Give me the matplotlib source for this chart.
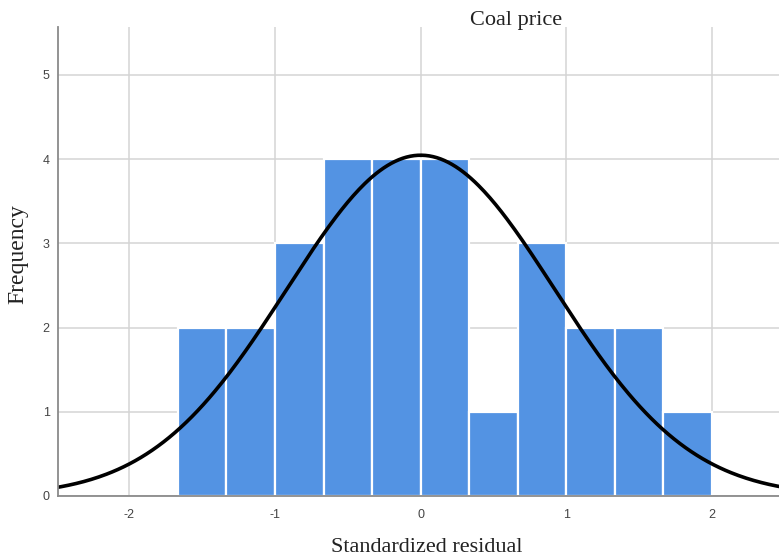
import numpy as np
import matplotlib
matplotlib.use("Agg")
import matplotlib.pyplot as plt

plt.rcParams["axes.unicode_minus"] = False

# histogram of standardized residuals (SPSS style)
bin_edges = np.linspace(-5 / 3, 2, 12)
counts = [2, 2, 3, 4, 4, 4, 1, 3, 2, 2, 1]
x_ticks = [-2, -1, 0, 1, 2]
y_ticks = [0, 1, 2, 3, 4, 5]

# fitted normal curve parameters
fit_mean = 0.0
fit_sd = 0.92

n_obs = sum(counts)
bin_width = bin_edges[1] - bin_edges[0]

fig = plt.figure(figsize=(7.79, 5.59), dpi=100)
ax = fig.add_axes([58 / 779, 1 - 496 / 559, 1 - 58 / 779, (496 - 27) / 559])

ax.bar(bin_edges[:-1], counts, width=np.diff(bin_edges), align="edge",
       color="#5393e3", edgecolor="white", linewidth=1.6, zorder=2)

xs = np.linspace(-2.6, 2.6, 400)
curve = n_obs * bin_width * np.exp(-0.5 * ((xs - fit_mean) / fit_sd) ** 2) / (fit_sd * np.sqrt(2 * np.pi))
ax.plot(xs, curve, color="black", linewidth=2.6, zorder=4)

ax.set_xlim(-2.49, 2.46)
ax.set_ylim(0, 5.57)
ax.set_xticks(x_ticks)
ax.set_yticks(y_ticks)
ax.grid(True, color="#d4d4d4", linewidth=1.1, zorder=0)
ax.set_axisbelow(True)
ax.tick_params(axis="x", length=0, labelsize=9, labelcolor="#444444", pad=9)
ax.tick_params(axis="y", length=0, labelsize=9, labelcolor="#444444", pad=6)
for lab in ax.get_xticklabels() + ax.get_yticklabels():
    lab.set_family("Liberation Sans")

for side in ["top", "right"]:
    ax.spines[side].set_visible(False)
for side in ["left", "bottom"]:
    ax.spines[side].set_color("#8a8a8a")
    ax.spines[side].set_linewidth(1.3)
    ax.spines[side].set_zorder(5)

# axis titles placed in figure coords (the original is cropped tightly)
fig.text(427 / 779, 1 - 547 / 559, "Standardized residual", family="Liberation Serif",
         fontsize=16, ha="center", va="center", color="#222222")
fig.text(18 / 779, 1 - 254 / 559, "Frequency", family="Liberation Serif",
         fontsize=17, ha="center", va="center", rotation=90, color="#222222")
fig.text(516 / 779, 1 - 20 / 559, "Coal price", family="Liberation Serif", fontsize=16,
         ha="center", va="center", color="#222222",
         bbox=dict(facecolor="white", edgecolor="none", pad=2))

fig.savefig("out.png", dpi=100)
